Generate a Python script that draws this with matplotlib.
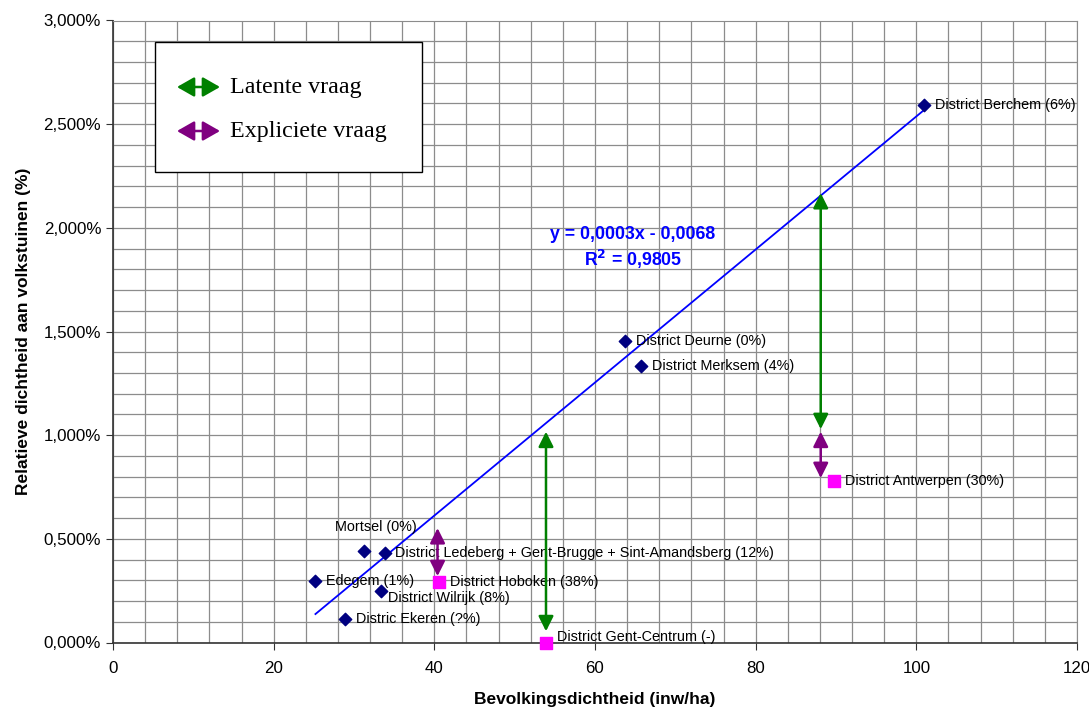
import matplotlib
matplotlib.use('Agg')
import matplotlib.pyplot as plt
import matplotlib.ticker as mtick
from matplotlib.patches import Rectangle, FancyArrowPatch
import numpy as np

plt.rcParams['font.family'] = ['Liberation Sans', 'DejaVu Sans']

# ── Data (x = inw/ha, y = fraction) ───────────────────────────────────────────
blue_labels = ['District Berchem (6%)', 'District Deurne (0%)', 'District Merksem (4%)',
               'Mortsel (0%)', 'District Ledeberg + Gent-Brugge + Sint-Amandsberg (12%)',
               'Edegem (1%)', 'District Wilrijk (8%)', 'Distric Ekeren (?%)']
blue_x = [100.9, 63.7, 65.7, 31.3, 33.8, 25.2, 33.3, 28.9]
blue_y = [0.02592, 0.01454, 0.01334, 0.00443, 0.00433, 0.00299, 0.00246, 0.00111]

pink_labels = ['District Antwerpen (30%)', 'District Hoboken (38%)', 'District Gent-Centrum (-)']
pink_x = [89.7, 40.6, 53.9]
pink_y = [0.0078, 0.0029, 0.0]

# label offsets in pixels (dx, dy, ha)
blue_offsets = [(11, 0, 'left'), (11, 0, 'left'), (11, 0, 'left'), (11, 24, 'center'),
                (10, 0, 'left'), (11, 0, 'left'), (7, -7, 'left'), (11, 0, 'left')]
pink_offsets = [(11, 0, 'left'), (11, 0, 'left'), (11, 6, 'left')]

# demand arrows: (x, y_start, y_end)
latent_arrows = [(53.9, 0.00054, 0.01017), (88.1, 0.01029, 0.02168)]
explicit_arrows = [(88.1, 0.00793, 0.01017), (40.4, 0.0032, 0.00552)]

legend_labels = ['Latente vraag', 'Expliciete vraag']

NAVY = '#000080'
MAGENTA = '#FF00FF'
GREEN = '#008000'
PURPLE = '#800080'
W, H = 1089, 709

fig = plt.figure(figsize=(10.89, 7.09), dpi=100)
ax = fig.add_axes([113 / W, 1 - 642.5 / H, 964 / W, 622 / H])

ax.set_xlim(0, 120)
ax.set_ylim(0, 0.03)
ax.xaxis.set_major_locator(mtick.MultipleLocator(20))
ax.xaxis.set_minor_locator(mtick.MultipleLocator(4))
ax.yaxis.set_major_locator(mtick.MultipleLocator(0.005))
ax.yaxis.set_minor_locator(mtick.MultipleLocator(0.001))
ax.yaxis.set_major_formatter(mtick.FuncFormatter(lambda v, p: f"{v*100:.3f}%".replace('.', ',')))
ax.grid(True, which='both', color='#8c8c8c', linewidth=0.9)
ax.set_axisbelow(True)
ax.tick_params(which='minor', length=0)
ax.tick_params(which='major', length=5, labelsize=12.2, direction='out', color='#333333')
ax.tick_params(axis='x', pad=8)
for s in ['top', 'right']:
    ax.spines[s].set_color('#8c8c8c')
for s in ['left', 'bottom']:
    ax.spines[s].set_color('#333333')
    ax.spines[s].set_linewidth(1.2)

# trendline on the blue points
coef = np.polyfit(blue_x, blue_y, 1)
tx = np.array([min(blue_x), max(blue_x)])
ax.plot(tx, np.polyval(coef, tx), color='#0000FF', linewidth=1.3, zorder=3)

ax.scatter(blue_x, blue_y, marker='D', s=40, color=NAVY, zorder=5)
ax.scatter(pink_x, pink_y, marker='s', s=64, color=MAGENTA, zorder=5, clip_on=False)

for lab, x, y, (dx, dy, ha) in zip(blue_labels, blue_x, blue_y, blue_offsets):
    ax.annotate(lab, (x, y), xytext=(dx, dy), textcoords='offset pixels',
                ha=ha, va='center', fontsize=10.4)
for lab, x, y, (dx, dy, ha) in zip(pink_labels, pink_x, pink_y, pink_offsets):
    ax.annotate(lab, (x, y), xytext=(dx, dy), textcoords='offset pixels',
                ha=ha, va='center', fontsize=10.4)


def arrow(x, y0, y1, color):
    ax.annotate('', xy=(x, y1), xytext=(x, y0),
                arrowprops=dict(arrowstyle='<|-|>,head_length=0.9,head_width=0.45',
                                color=color, lw=1.8, shrinkA=0, shrinkB=0), zorder=6)


for x, y0, y1 in latent_arrows:
    arrow(x, y0, y1, GREEN)
for x, y0, y1 in explicit_arrows:
    arrow(x, y0, y1, PURPLE)

# trendline equation
fig.text(633 / W, 1 - 235 / H, 'y = 0,0003x - 0,0068', color='#0000FF',
         fontsize=12.8, fontweight='bold', ha='center', va='center')
fig.text(633 / W, 1 - 259 / H, r'R$^\mathbf{2}$ = 0,9805', color='#0000FF',
         fontsize=12.8, fontweight='bold', ha='center', va='center')

ax.set_xlabel('Bevolkingsdichtheid (inw/ha)', fontsize=12.5, fontweight='bold', labelpad=12)
ax.set_ylabel('Relatieve dichtheid aan volkstuinen (%)', fontsize=12.5, fontweight='bold', labelpad=9)

# legend box with double arrows
fig.patches.append(Rectangle((155 / W, 1 - 172 / H), 267 / W, 130 / H, transform=fig.transFigure,
                             facecolor='white', edgecolor='black', linewidth=1.0, zorder=10))
for (ly, color, lab) in zip([87, 131], [GREEN, PURPLE], legend_labels):
    fig.add_artist(FancyArrowPatch(
        (177 / W, 1 - ly / H), (220 / W, 1 - ly / H), transform=fig.transFigure,
        arrowstyle='<|-|>,head_length=10.5,head_width=6', color=color, lw=1.8,
        shrinkA=0, shrinkB=0, mutation_scale=1, zorder=11))
    fig.text(230 / W, 1 - ly / H, lab, family='Liberation Serif', fontsize=17.3,
             ha='left', va='center', zorder=11)

plt.savefig('out.png', dpi=100)
